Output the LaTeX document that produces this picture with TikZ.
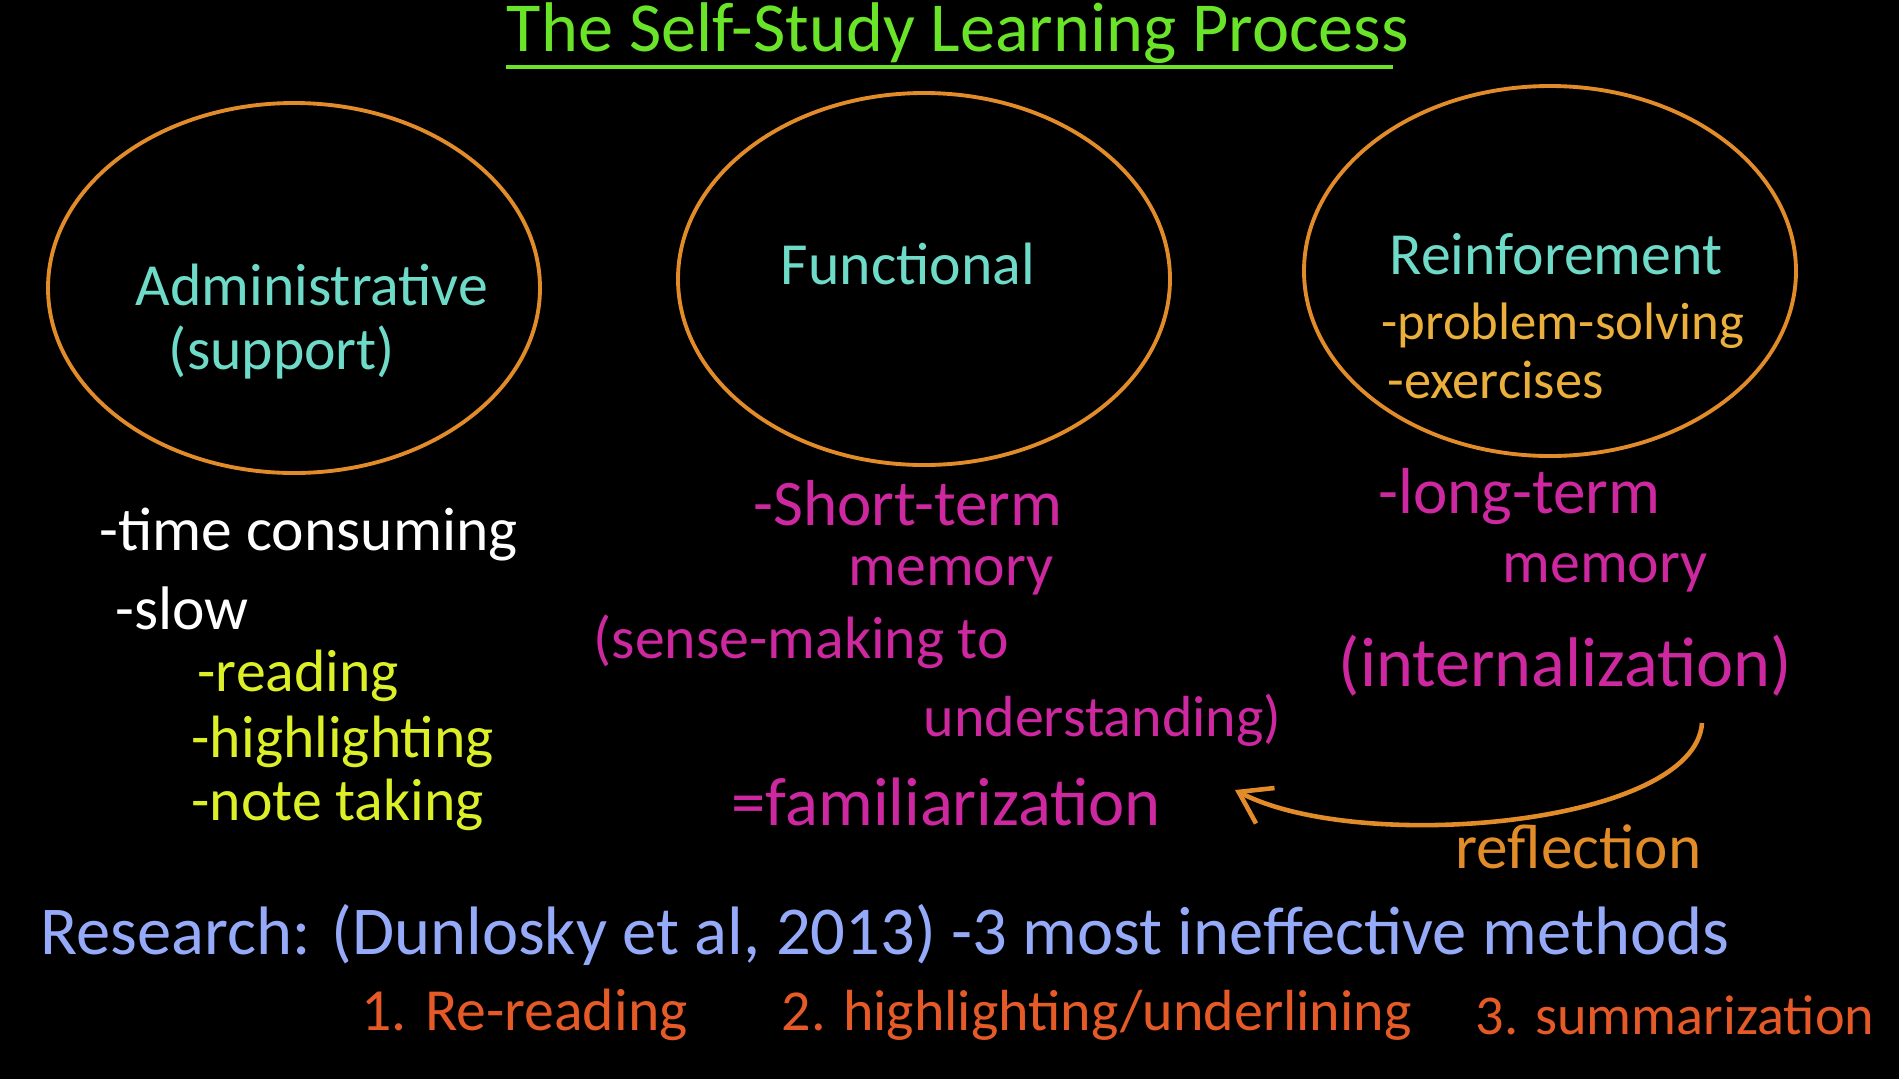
\documentclass[tikz,border=0pt]{standalone}
\usepackage{fontspec}
\setmainfont{Carlito}
\usetikzlibrary{arrows.meta}
\definecolor{tituloVerde}{RGB}{105,228,40}
\definecolor{circNaranja}{RGB}{225,140,40}
\definecolor{textoCian}{RGB}{110,218,200}
\definecolor{puntoAmbar}{RGB}{235,175,60}
\definecolor{textoAmarillo}{RGB}{220,240,40}
\definecolor{textoMagenta}{RGB}{205,40,160}
\definecolor{textoAzul}{RGB}{150,170,250}
\definecolor{textoRojizo}{RGB}{230,90,40}

\tikzset{
  fs/.style={font=\fontsize{#1}{#1}\selectfont},
  circulo/.style={draw=circNaranja, line width=1.1pt},
  rotulo/.style={inner sep=0pt, text=textoCian, fs=17},
}

\begin{document}
\begin{tikzpicture}[x=1cm, y=-1cm]
            % Fondo (1 cm = 100 px)
            \fill[black] (0,0) rectangle (18.99,10.79);
            \useasboundingbox (0,0) rectangle (18.99,10.79);

            % 1. TITULO
            \node[inner sep=0pt, text=tituloVerde, fs=20] (titulo) at (9.58,0.33) {The Self-Study Learning Process};
            \draw[tituloVerde, line width=1.4pt] (5.06,0.67) -- (13.93,0.67);

            % 2. CIRCULOS
            \draw[circulo] (2.94,2.88) ellipse [x radius=2.46, y radius=1.85];
            \draw[circulo] (9.24,2.79) ellipse [x radius=2.46, y radius=1.86];
            \draw[circulo] (15.50,2.71) ellipse [x radius=2.46, y radius=1.85];

            \node[rotulo] (admin) at (3.12,2.85) {Administrative};
            \node[rotulo] (soporte) at (2.82,3.52) {(support)};
            \node[rotulo] (func) at (9.08,2.64) {Functional};
            \node[rotulo] (refuerzo) at (15.56,2.54) {Reinforement};
            \node[inner sep=0pt, text=puntoAmbar, fs=15, anchor=west] (problemas) at (13.81,3.26) {-problem-solving};
            \node[inner sep=0pt, text=puntoAmbar, fs=15.5, anchor=west] (ejercicios) at (13.87,3.80) {-exercises};

            % 3. LISTAS
            \node[inner sep=0pt, text=white, fs=17.5, anchor=west] (tiempo) at (0.99,5.35) {-time consuming};
            \node[inner sep=0pt, text=white, fs=17.5, anchor=west] (lento) at (1.15,6.08) {-slow};
            \node[inner sep=0pt, text=textoAmarillo, fs=17, anchor=west] (leer) at (1.97,6.76) {-reading};
            \node[inner sep=0pt, text=textoAmarillo, fs=17, anchor=west] (resaltar) at (1.91,7.42) {-highlighting};
            \node[inner sep=0pt, text=textoAmarillo, fs=17, anchor=west] (notas) at (1.91,8.05) {-note taking};

            \node[inner sep=0pt, text=textoMagenta, fs=18.5, anchor=west] (corto) at (7.53,5.03) {-Short-term};
            \node[inner sep=0pt, text=textoMagenta, fs=17, anchor=west] (memA) at (8.48,5.76) {memory};
            \node[inner sep=0pt, text=textoMagenta, fs=17, anchor=west] (sentido) at (5.93,6.42) {(sense-making to};
            \node[inner sep=0pt, text=textoMagenta, fs=16.5, anchor=west] (entender) at (9.23,7.20) {understanding)};
            \node[inner sep=0pt, text=textoMagenta, fs=19.5, anchor=west] (familiar) at (7.31,8.02) {=familiarization};

            \node[inner sep=0pt, text=textoMagenta, fs=18.5, anchor=west] (largo) at (13.78,4.97) {-long-term};
            \node[inner sep=0pt, text=textoMagenta, fs=17, anchor=west] (memB) at (15.02,5.73) {memory};
            \node[inner sep=0pt, text=textoMagenta, fs=20, anchor=west] (interno) at (13.38,6.66) {(internalization)};

            % 4. FLECHA DE REFLEXION
            \coordinate (reflDesde) at (17.02,7.23);
            \coordinate (reflHasta) at (12.35,7.90);
            \draw[circNaranja, line width=1.3pt, -{Straight Barb[length=3mm, width=4mm]}]
            (reflDesde) .. controls (16.95,8.25) and (13.60,8.55) .. (reflHasta);
            \node[inner sep=0pt, text=circNaranja, fs=18, anchor=west] (reflexion) at (14.55,8.47) {reflection};

            % 5. INVESTIGACION
            \node[inner sep=0pt, text=textoAzul, fs=19.5, anchor=west] (investiga) at (0.40,9.35) {Research: (Dunlosky et al, 2013) -3 most ineffective methods};
            \node[inner sep=0pt, text=textoRojizo, fs=17, anchor=west] (metodoA) at (3.61,10.15) {1. Re-reading};
            \node[inner sep=0pt, text=textoRojizo, fs=16.5, anchor=west] (metodoB) at (7.81,10.15) {2. highlighting/underlining};
            \node[inner sep=0pt, text=textoRojizo, fs=16, anchor=west] (metodoC) at (14.75,10.15) {3. summarization};
        \end{tikzpicture}
\end{document}
